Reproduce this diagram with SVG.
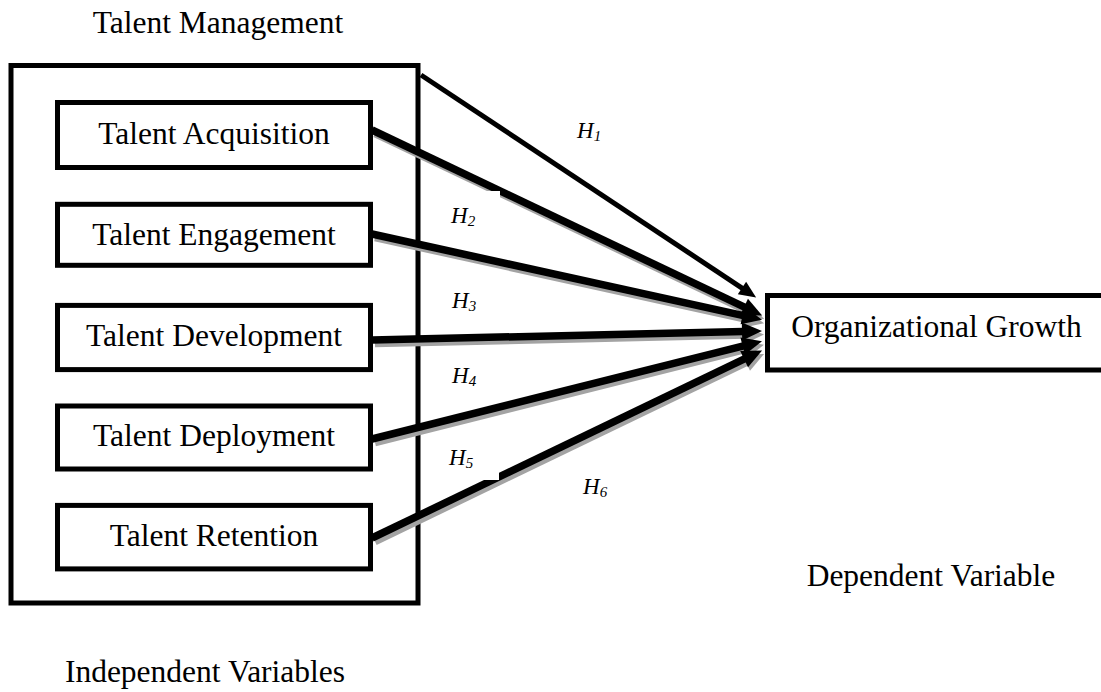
<svg xmlns="http://www.w3.org/2000/svg" width="1101" height="692" viewBox="0 0 1101 692">
<style>
.t{font-family:"Liberation Serif","Times New Roman",serif;font-size:31.5px;fill:#000;text-anchor:middle}
.h{font-family:"Liberation Serif","Times New Roman",serif;font-size:23px;font-style:italic;fill:#000}
.box{fill:#fff;stroke:#000;stroke-width:5}
.thick{fill:none;stroke:#000;stroke-width:7.5;marker-end:url(#ah)}
.shadow{fill:none;stroke:#a3a3a3;stroke-width:7.5;marker-end:url(#ahg)}
.thin{fill:none;stroke:#000;stroke-width:5;marker-end:url(#ahs)}
</style>
<defs>
<marker id="ah" markerUnits="userSpaceOnUse" markerWidth="22" markerHeight="18" refX="1" refY="9" orient="auto" overflow="visible"><path d="M0,0 L20,9 L0,18 z" fill="#000"/></marker>
<marker id="ahg" markerUnits="userSpaceOnUse" markerWidth="22" markerHeight="18" refX="1" refY="9" orient="auto" overflow="visible"><path d="M0,0 L20,9 L0,18 z" fill="#a3a3a3"/></marker>
<marker id="ahs" markerUnits="userSpaceOnUse" markerWidth="19" markerHeight="16" refX="1" refY="7.5" orient="auto" overflow="visible"><path d="M0,0 L17,7.5 L0,15 z" fill="#000"/></marker>
</defs>
<rect width="1101" height="692" fill="#fff"/>

<text class="t" x="218" y="33">Talent Management</text>

<g id="talent-management">
<rect class="box" x="11" y="65.5" width="407" height="537.5"/>
</g>

<g id="talent-acquisition">
<rect class="box" x="57.5" y="102.5" width="313" height="65"/>
<text class="t" x="214" y="144">Talent Acquisition</text>
</g>
<g id="talent-engagement">
<rect class="box" x="57.5" y="204.3" width="313" height="61"/>
<text class="t" x="214" y="244.6">Talent Engagement</text>
</g>
<g id="talent-development">
<rect class="box" x="57.5" y="305.4" width="313" height="64.2"/>
<text class="t" x="214" y="345.7">Talent Development</text>
</g>
<g id="talent-deployment">
<rect class="box" x="57.5" y="406" width="313" height="63"/>
<text class="t" x="214" y="446.4">Talent Deployment</text>
</g>
<g id="talent-retention">
<rect class="box" x="57.5" y="505.4" width="313" height="63.5"/>
<text class="t" x="214" y="546.4">Talent Retention</text>
</g>

<g id="organizational-growth">
<rect class="box" x="767.5" y="295.5" width="345" height="74.5"/>
<text class="t" x="936.5" y="337">Organizational Growth</text>
</g>

<g id="connectors">
<g transform="translate(2,3.5)">
<line class="shadow" x1="373" y1="130" x2="745" y2="307.4"/>
<line class="shadow" x1="373" y1="234" x2="743.5" y2="315.7"/>
<line class="shadow" x1="373" y1="340" x2="743" y2="331.5"/>
<line class="shadow" x1="373" y1="439" x2="743.6" y2="345.9"/>
<line class="shadow" x1="373" y1="538" x2="745" y2="358.7"/>
</g>
<line class="thin" x1="421" y1="75" x2="742.8" y2="288.6"/>
<line class="thick" x1="372" y1="130" x2="745" y2="307.4"/>
<line class="thick" x1="372" y1="234" x2="743.5" y2="315.7"/>
<line class="thick" x1="372" y1="340" x2="743" y2="331.5"/>
<line class="thick" x1="372" y1="439" x2="743.6" y2="345.9"/>
<line class="thick" x1="372" y1="538" x2="745" y2="358.7"/>
</g>

<g id="labels">
<rect x="440" y="191" width="60" height="49" fill="#fff"/>
<rect x="440" y="432" width="59" height="48" fill="#fff"/>
<text class="h" x="577" y="138">H<tspan font-size="15" dy="3">1</tspan></text>
<text class="h" x="451" y="223">H<tspan font-size="15" dy="3">2</tspan></text>
<text class="h" x="452" y="308">H<tspan font-size="15" dy="3">3</tspan></text>
<text class="h" x="452" y="383">H<tspan font-size="15" dy="3">4</tspan></text>
<text class="h" x="449" y="465">H<tspan font-size="15" dy="3">5</tspan></text>
<text class="h" x="583" y="494">H<tspan font-size="15" dy="3">6</tspan></text>
</g>

<text class="t" x="931" y="586">Dependent Variable</text>
<text class="t" x="205" y="682">Independent Variables</text>
</svg>
